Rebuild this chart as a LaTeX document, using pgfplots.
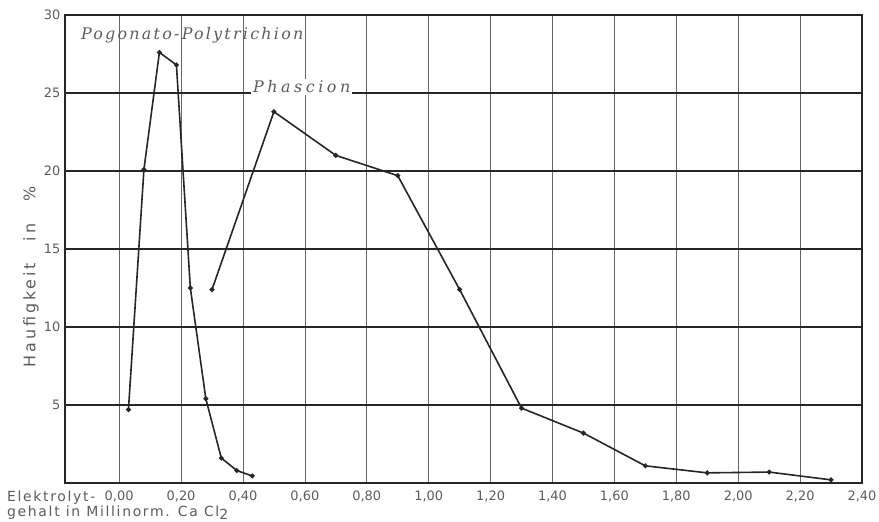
\documentclass[border=0pt]{standalone}
\usepackage{pgfplots}
\pgfplotsset{compat=1.18}
\usepackage{fontspec}
\setmainfont{DejaVu Sans}
\newfontfamily\ylabfont{DejaVu Sans}[LetterSpace=18]
\newfontfamily\xlabfont{DejaVu Sans}[LetterSpace=12]
\newfontfamily\curvefont{DejaVu Serif}[LetterSpace=14]
\newfontfamily\phasfont{DejaVu Serif}[LetterSpace=22]
\definecolor{ink}{gray}{0.15}
\definecolor{gridc}{gray}{0.4}
\begin{document}
\begin{tikzpicture}[x=1bp,y=1bp]
\useasboundingbox (-65bp,-39bp) rectangle (814bp,483bp);
\begin{axis}[
  scale only axis,
  width=797bp, height=468bp,
  xmin=-0.175, xmax=2.4, ymin=0, ymax=30,
  xtick={0,0.2,0.4,0.6,0.8,1.0,1.2,1.4,1.6,1.8,2.0,2.2,2.4},
  xticklabels={{0,00},{0,20},{0,40},{0,60},{0,80},{1,00},{1,20},{1,40},{1,60},{1,80},{2,00},{2,20},{2,40}},
  ytick={5,10,15,20,25,30},
  yticklabels={5,10,15,20,25,30},
  major tick length=0pt,
  grid=major,
  x grid style={gridc, line width=0.7bp},
  y grid style={ink, line width=1.1bp},
  axis line style={ink, line width=1.5bp},
  x tick label style={font=\fontsize{13}{13}\selectfont\color{ink!75}, anchor=base, yshift=-17bp},
  y tick label style={font=\fontsize{13}{13}\selectfont\color{ink!75}, anchor=east, xshift=-1bp},
  clip=false,
]
\addplot[ink, line width=1.6bp, mark=*, mark size=1.6bp] coordinates {
  (0.03,4.7) (0.08,20.1) (0.13,27.6) (0.185,26.8) (0.23,12.5)
  (0.28,5.4) (0.33,1.6) (0.38,0.8) (0.43,0.45)
};
\addplot[ink, line width=1.6bp, mark=*, mark size=1.6bp] coordinates {
  (0.3,12.4) (0.5,23.8) (0.7,21.0) (0.9,19.7) (1.1,12.4)
  (1.3,4.8) (1.5,3.2) (1.7,1.1) (1.9,0.65) (2.1,0.7) (2.3,0.2)
};
\node[font=\curvefont\itshape\fontsize{16}{16}\selectfont, text=ink!75] at (axis cs:0.236,28.7) {Pogonato-Polytrichion};
\node[font=\phasfont\itshape\fontsize{16}{16}\selectfont, text=ink!75, fill=white, inner sep=2bp] at (axis cs:0.59,25.4) {Phascion};
\end{axis}
\node[rotate=90, font=\ylabfont\fontsize{16}{16}\selectfont, text=ink!75] at (-34bp,206bp) {Haufigkeit\hspace{22bp}in\hspace{22bp}\%};
\node[anchor=base west, font=\xlabfont\fontsize{14}{14}\selectfont, text=ink!75, inner sep=0pt] at (-58bp,-18bp) {Elektrolyt-};
\node[anchor=base west, font=\xlabfont\fontsize{14}{14}\selectfont, text=ink!75, inner sep=0pt] at (-58bp,-33bp) {gehalt in Millinorm. Ca Cl\raisebox{-3bp}{2}};
\end{tikzpicture}
\end{document}
